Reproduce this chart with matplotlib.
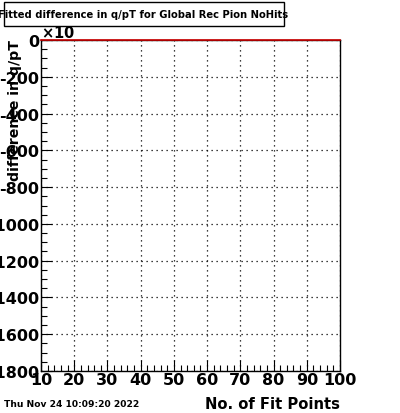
import matplotlib
matplotlib.use("Agg")
import matplotlib.pyplot as plt
from matplotlib.patches import Rectangle
from matplotlib.ticker import MultipleLocator

plt.rcParams['font.family'] = 'DejaVu Sans'
plt.rcParams['font.weight'] = 'bold'
plt.rcParams['axes.unicode_minus'] = False

# histogram contents (all bins empty -> flat line at zero)
fit_points = [10, 100]
q_pt_diff = [0, 0]

x_range = (10, 100)
y_range = (-1800, 0)

fig = plt.figure(figsize=(4.0, 4.14), dpi=100)
ax = fig.add_axes([41 / 400, 42 / 414, 299 / 400, 331 / 414])

ax.plot(fit_points, q_pt_diff, color='#cc0000', lw=1.2, clip_on=False, zorder=5)

ax.set_xlim(*x_range)
ax.set_ylim(*y_range)

ax.xaxis.set_major_locator(MultipleLocator(10))
ax.xaxis.set_minor_locator(MultipleLocator(2))
ax.yaxis.set_major_locator(MultipleLocator(200))
ax.yaxis.set_minor_locator(MultipleLocator(50))

ax.tick_params(which='both', direction='in', top=False, right=False, labelsize=11.5, pad=1)
ax.tick_params(which='major', length=8, width=0.8)
ax.tick_params(which='minor', length=4, width=0.8)
for lab in ax.get_xticklabels() + ax.get_yticklabels():
    lab.set_fontweight('bold')

ax.grid(True, which='major', linestyle=(0, (1, 3)), color='black', linewidth=0.9)

for sp in ax.spines.values():
    sp.set_linewidth(1.0)

# ROOT style exponent marker
ax.text(0.0, 1.0, r'$\times$10', transform=ax.transAxes, fontsize=10.5,
        fontweight='bold', ha='left', va='bottom')

fig.text(340 / 400, 1 - 405 / 414, 'No. of Fit Points', ha='right', va='center',
         fontsize=10.6, fontweight='bold')
fig.text(15 / 400, 1 - 40 / 414, 'difference in q/pT', rotation=90, ha='center',
         va='top', fontsize=10.2, fontweight='bold')

# title box
fig.patches.append(Rectangle((4 / 400, 1 - 27 / 414), 280 / 400, 24 / 414,
                             transform=fig.transFigure, facecolor='white',
                             edgecolor='black', lw=1.0))
fig.text(143.5 / 400, 1 - 15 / 414, 'Fitted difference in q/pT for Global Rec Pion NoHits',
         ha='center', va='center', fontsize=7.2, fontweight='bold')

fig.text(4 / 400, 1 - 405 / 414, 'Thu Nov 24 10:09:20 2022', ha='left', va='center',
         fontsize=6.6, fontweight='bold')

fig.savefig('out.png', dpi=100)
